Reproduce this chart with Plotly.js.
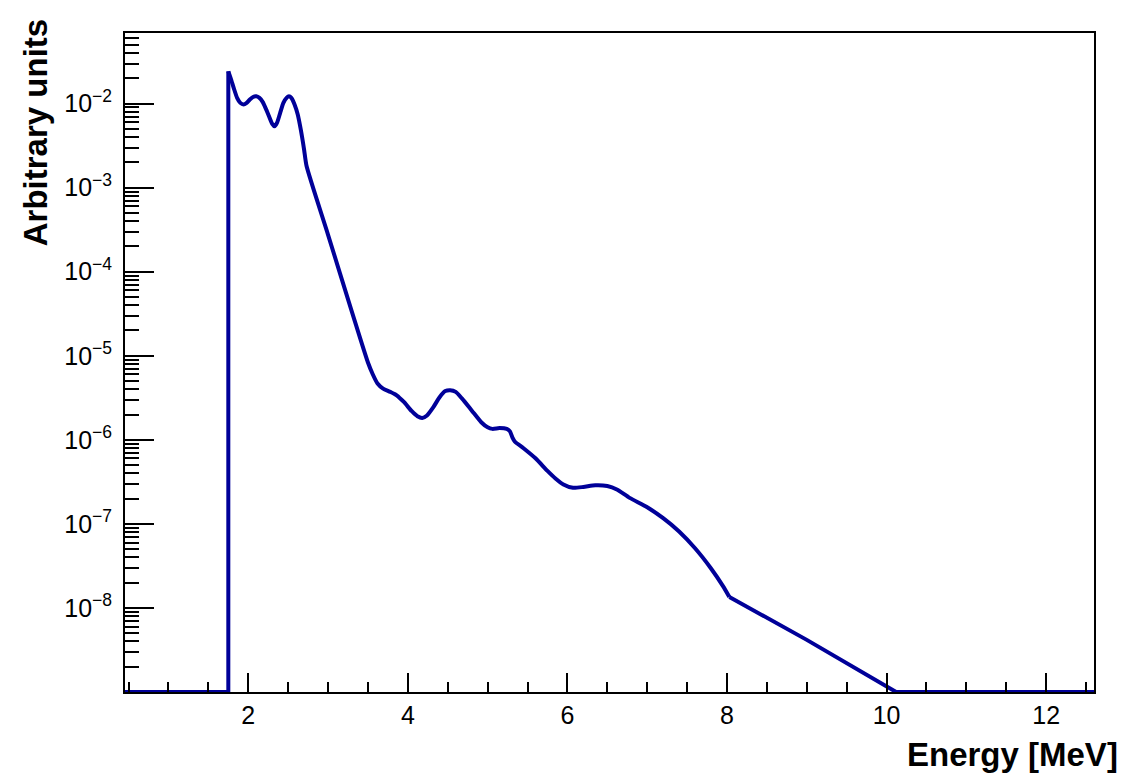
<!DOCTYPE html>
<html>
<head>
<meta charset="utf-8">
<script src="https://cdn.plot.ly/plotly-3.0.1.min.js"></script>
<style>
html,body{margin:0;padding:0;background:#fff;}
#chart{width:1137px;height:773px;}
</style>
</head>
<body>
<div id="chart"></div>
<script>
// Energy values [MeV]
const energy = [0.455, 1.75, 1.75, 1.78, 1.82, 1.86, 1.90, 1.94, 1.98, 2.02, 2.06, 2.10, 2.14, 2.18, 2.22, 2.26, 2.30, 2.33, 2.36, 2.40, 2.44, 2.48, 2.51, 2.54, 2.58, 2.62, 2.66, 2.70, 2.73, 3.00, 3.30, 3.50, 3.56, 3.62, 3.69, 3.78, 3.86, 3.95, 4.05, 4.12, 4.18, 4.24, 4.32, 4.40, 4.47, 4.53, 4.60, 4.68, 4.80, 4.92, 5.00, 5.06, 5.15, 5.24, 5.28, 5.31, 5.34, 5.45, 5.60, 5.75, 5.85, 5.95, 6.07, 6.20, 6.35, 6.50, 6.62, 6.78, 7.00, 7.20, 7.40, 7.60, 7.80, 7.95, 8.03, 9.00, 10.12, 12.6];
// Intensity [arbitrary units]; 1e-9 = floor of the plot (zero content)
const intensity = [1e-9, 1e-9, 2.42e-2, 2.00e-2, 1.51e-2, 1.17e-2, 1.02e-2, 9.77e-3, 1.02e-2, 1.12e-2, 1.20e-2, 1.22e-2, 1.17e-2, 1.05e-2, 8.71e-3, 7.08e-3, 5.75e-3, 5.37e-3, 5.89e-3, 7.76e-3, 1.02e-2, 1.17e-2, 1.22e-2, 1.17e-2, 9.77e-3, 7.41e-3, 4.79e-3, 2.82e-3, 1.82e-3, 2.75e-4, 3.31e-5, 8.32e-6, 6.03e-6, 4.68e-6, 4.07e-6, 3.72e-6, 3.39e-6, 2.82e-6, 2.19e-6, 1.91e-6, 1.82e-6, 1.95e-6, 2.45e-6, 3.24e-6, 3.80e-6, 3.89e-6, 3.72e-6, 3.09e-6, 2.24e-6, 1.62e-6, 1.41e-6, 1.35e-6, 1.38e-6, 1.35e-6, 1.26e-6, 1.07e-6, 9.55e-7, 7.94e-7, 6.03e-7, 4.27e-7, 3.47e-7, 2.95e-7, 2.69e-7, 2.75e-7, 2.88e-7, 2.82e-7, 2.57e-7, 2.04e-7, 1.58e-7, 1.17e-7, 8.13e-8, 5.13e-8, 2.95e-8, 1.82e-8, 1.35e-8, 4.17e-9, 1e-9, 1e-9];

const xTickVals = [2, 4, 6, 8, 10, 12];
const xTickText = ['2', '4', '6', '8', '10', '12'];
const yTickVals = [1e-2, 1e-3, 1e-4, 1e-5, 1e-6, 1e-7, 1e-8];
const yTickText = ['10<sup>\u22122</sup>', '10<sup>\u22123</sup>', '10<sup>\u22124</sup>', '10<sup>\u22125</sup>', '10<sup>\u22126</sup>', '10<sup>\u22127</sup>', '10<sup>\u22128</sup>'];

const yMinor = [];
for (let e = -9; e <= -2; e++) {
  for (let k = 2; k <= 9; k++) yMinor.push(k * Math.pow(10, e));
}

const W = 1137, H = 773;
const L = 125, R = 42.7, T = 33.3, B = 80.7;
const pw = W - L - R, ph = H - T - B;
const font = 'Liberation Sans, Arial, Helvetica, sans-serif';
const lineStyle = {color: '#000099', width: 4};

// split the same arrays at the sharp corners: step (linear), smooth body (spline), tail (linear)
const iTop = 2;
const iKink = energy.indexOf(8.03);
function seg(a, b, shape) {
  return {
    x: energy.slice(a, b + 1), y: intensity.slice(a, b + 1),
    type: 'scatter', mode: 'lines',
    line: Object.assign({shape: shape, smoothing: 0.6}, lineStyle),
    hoverinfo: 'skip', showlegend: false
  };
}
const traces = [
  seg(0, iTop, 'linear'),
  seg(iTop, iKink, 'spline'),
  seg(iKink, energy.length - 1, 'linear')
];

const layout = {
  width: W, height: H,
  margin: {l: L, r: R, t: T, b: B, pad: 0},
  paper_bgcolor: '#ffffff', plot_bgcolor: '#ffffff',
  font: {family: font, size: 25, color: '#000'},
  showlegend: false,
  xaxis: {
    range: [0.455, 12.6], showgrid: false, zeroline: false,
    showline: true, linecolor: '#000', linewidth: 2, mirror: true,
    ticks: 'inside', ticklen: 19, tickwidth: 2, tickcolor: '#000',
    tickmode: 'array', tickvals: xTickVals, ticktext: xTickText,
    tickfont: {family: font, size: 25, color: '#000'},
    minor: {ticks: 'inside', ticklen: 10, tickwidth: 2, tickcolor: '#000', dtick: 0.5, tick0: 0, showgrid: false}
  },
  yaxis: {
    type: 'log', range: [-9, -1.16], showgrid: false, zeroline: false,
    showline: true, linecolor: '#000', linewidth: 2, mirror: true,
    ticks: 'inside', ticklen: 29, tickwidth: 2, tickcolor: '#000',
    tickmode: 'array', tickvals: yTickVals, ticktext: yTickText,
    ticklabelstandoff: 6,
    tickfont: {family: font, size: 25, color: '#000'},
    minor: {ticks: 'inside', ticklen: 14, tickwidth: 2, tickcolor: '#000', tickmode: 'array', tickvals: yMinor, showgrid: false}
  },
  annotations: [
    {text: '<b>Energy [MeV]</b>', xref: 'paper', yref: 'paper',
     x: (1120 - L) / pw, y: (H - B - 755) / ph, xanchor: 'right', yanchor: 'middle',
     showarrow: false, font: {family: font, size: 33, color: '#000'}},
    {text: '<b>Arbitrary units</b>', xref: 'paper', yref: 'paper', textangle: -90,
     x: (35 - L) / pw, y: (H - B - 18) / ph, xanchor: 'center', yanchor: 'top',
     showarrow: false, font: {family: font, size: 33, color: '#000'}}
  ]
};

Plotly.newPlot('chart', traces, layout, {displayModeBar: false, staticPlot: true});
</script>
</body>
</html>
